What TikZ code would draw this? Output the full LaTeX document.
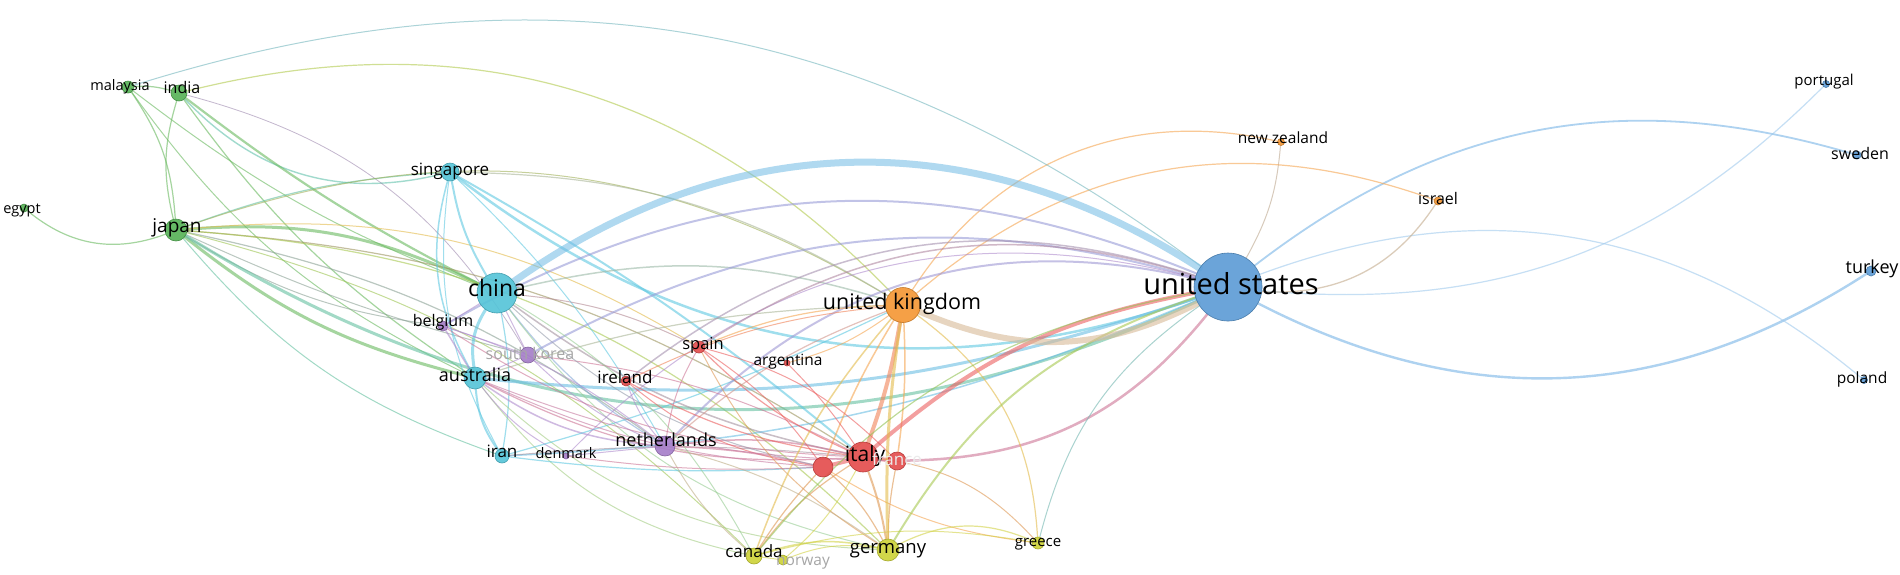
\documentclass[tikz,border=0pt]{standalone}
\usepackage{fontspec}
\setmainfont{Open Sans}
\usetikzlibrary{topaths}
\definecolor{cBlue}{RGB}{91,155,213}
\definecolor{cCyan}{RGB}{84,196,216}
\definecolor{cGreen}{RGB}{85,178,85}
\definecolor{cOrange}{RGB}{245,150,50}
\definecolor{cRed}{RGB}{228,75,75}
\definecolor{cYellow}{RGB}{205,210,55}
\definecolor{cPurple}{RGB}{165,125,200}
\definecolor{cEb}{RGB}{120,180,230}
\definecolor{cEc}{RGB}{95,200,225}
\definecolor{cEg}{RGB}{105,185,95}
\definecolor{cEo}{RGB}{245,165,80}
\definecolor{cEr}{RGB}{235,95,95}
\definecolor{cEy}{RGB}{210,210,70}
\definecolor{cEp}{RGB}{175,140,205}
\definecolor{cTan}{RGB}{215,185,150}
\tikzset{
  bl/.style={bend left=#1},
  br/.style={bend right=#1},
  lnk/.style={line cap=round, opacity=0.6},
  lw/.style={line width={#1*0.1pt}},
  vn/.style={circle, inner sep=0pt, minimum size={#1*0.1pt}, line width=0.06pt},
  lb/.style={font={\pgfmathsetmacro\fsz{#1/10}\fontsize{\fsz pt}{\fsz pt}\selectfont}, inner sep=0pt, text height={#1*0.072pt}, text depth={#1*0.02pt}, text=black},
  ghost/.style={text=black!35},
}
\def\nodelist{US/1228/287/68/cBlue, CN/497/293/40/cCyan, UK/903/305/35/cOrange, IT/863/457/30/cRed,
 XX/823/467/20/cRed, FR/897/461/18/cRed, AU/475/378/22/cCyan, JP/176/230/22/cGreen, IN/179/93/16/cGreen,
 MY/128/87/12/cGreen, EG/24/208/8/cGreen, SG/450/172/18/cCyan, IR/502/456/14/cCyan, KR/528/355/16/cPurple,
 BE/443/326/10/cPurple, DK/566/456/6/cPurple, NL/665/446/20/cPurple, IE/626/381/10/cRed, ES/699/347/12/cRed,
 AR/787/363/6/cRed, DE/888/550/22/cYellow, GR/1038/543/12/cYellow, CA/754/556/16/cYellow, NO/783/560/10/cYellow,
 NZ/1281/142/7/cOrange, IL/1438/201/8/cOrange, PT/1826/84/7/cBlue, SE/1857/155/8/cBlue, TR/1871/271/10/cBlue,
 PL/1864/380/7/cBlue}
\begin{document}
\begin{tikzpicture}[x=0.1pt,y=-0.1pt]
\fill[white] (0,0) rectangle (1900,574);
\useasboundingbox (0,0) rectangle (1900,574);
% ---------- node shapes (for anchors) ----------
\foreach \n/\x/\y/\s/\c in \nodelist { \node[vn=\s] (\n) at (\x,\y) {}; }
% ---------- edges ----------
% US right side
\draw[lnk, cEb, lw=2.4] (US) to[br=30] (TR);
\draw[lnk, cEb, lw=1.8] (US) to[bl=27] (SE);
\draw[lnk, cEb!70!white, lw=1.2] (US) to[bl=30] (PL);
\draw[lnk, cEb!70!white, lw=1.2] (US) to[br=25] (PT);
\draw[lnk, cEo!60!cEb, lw=1.3] (US) to[br=30] (IL);
\draw[lnk, cTan!70!gray, lw=1] (US) to[br=12] (NZ);
\draw[lnk, cEo, lw=1.2] (UK) to[bl=35] (NZ);
\draw[lnk, cEo, lw=1.2] (UK) to[bl=30] (IL);
% green cluster
\draw[lnk, cEg, lw=1.2] (MY) to[bl=10] (IN);
\draw[lnk, cEg, lw=1.2] (MY) to[bl=15] (JP);
\draw[lnk, cEg, lw=1.2] (IN) to[br=15] (JP);
\draw[lnk, cEg, lw=1.2] (EG) to[br=30] (JP);
\draw[lnk, cEg!40!cEc, lw=1.4] (IN) to[br=30] (SG);
\draw[lnk, cEg, lw=2.2] (IN) to[br=5] (CN);
\draw[lnk, cEg, lw=1.2] (IN) to[br=10] (AU);
\draw[lnk, cEg, lw=1] (MY) to[br=8] (CN);
\draw[lnk, cEg, lw=1] (MY) to[br=14] (AU);
\draw[lnk, cEp!60!gray, lw=0.8] (IN) to[bl=22] (KR);
\draw[lnk, cEy!70!cEg, lw=1.2] (IN) to[bl=30] (UK);
\draw[lnk, cEg!30!cEb, lw=1] (MY) to[bl=27] (US);
\draw[lnk, cEg, lw=3] (JP) to[bl=15] (CN);
\draw[lnk, cEg, lw=3] (JP) to[br=12] (AU);
\draw[lnk, cEg!50!cEc, lw=1.2] (JP) to[bl=8] (SG);
\draw[lnk, cEg!50!cEp, lw=1] (JP) to[br=12] (BE);
\draw[lnk, cEg!50!cEp, lw=1] (JP) to[br=5] (KR);
\draw[lnk, cEg!60!cEr, lw=1.2] (JP) to[bl=14] (IT);
\draw[lnk, cEg!50!cEp, lw=1.2] (JP) to[bl=12] (NL);
\draw[lnk, cEy!50!cEo, lw=1] (JP) to[bl=18] (ES);
\draw[lnk, cEy!60!cEg, lw=1.2] (JP) to[bl=20] (DE);
\draw[lnk, cEy!50!cEg, lw=1] (JP) to[bl=15] (CA);
\draw[lnk, cEg!50!cEc, lw=1] (JP) to[br=15] (IR);
\draw[lnk, cEg!60!cEo, lw=1] (JP) to[bl=25] (UK);
\draw[lnk, cEg!50!cEc, lw=3] (JP) to[br=28] (US);
% cyan cluster
\draw[lnk, cEc, lw=3] (CN) to[br=20] (AU);
\draw[lnk, cEc, lw=2] (SG) to[br=10] (CN);
\draw[lnk, cEc, lw=1.5] (SG) to[br=22] (AU);
\draw[lnk, cEc, lw=1] (SG) to[br=18] (IR);
\draw[lnk, cEc, lw=2] (SG) to[bl=5] (IT);
\draw[lnk, cEc, lw=1] (SG) to[bl=8] (NL);
\draw[lnk, cEc, lw=2.5] (SG) to[br=28] (US);
\draw[lnk, cEc!50!cEo, lw=1.2] (SG) to[bl=15] (UK);
\draw[lnk, cEb!70!cEc, lw=7, opacity=0.55] (CN) to[bl=34] (US);
\draw[lnk, cEc, lw=1.2] (CN) to[bl=10] (IR);
\draw[lnk, cEc, lw=2] (AU) to[br=15] (IR);
\draw[lnk, cEc!60!cEo, lw=1.5] (CN) to[bl=15] (UK);
\draw[lnk, cEc!50!cEr, lw=1.5] (CN) to[br=12] (IT);
\draw[lnk, cEc!50!cEp, lw=1.2] (CN) to[br=10] (NL);
\draw[lnk, cEr!60!cEc, lw=1] (CN) to[bl=10] (ES);
\draw[lnk, cEy!50!cEc, lw=1] (CN) to[br=20] (DE);
\draw[lnk, cEp, lw=1] (CN) to (KR);
\draw[lnk, cEp, lw=1.5] (AU) to[br=15] (NL);
\draw[lnk, cEr!50!cEp, lw=1.2] (AU) to[br=15] (IT);
\draw[lnk, cEc!50!cEo, lw=1.2] (AU) to[bl=8] (UK);
\draw[lnk, cEy!60!cEc, lw=1] (AU) to[br=20] (DE);
\draw[lnk, cEy!60!cEc, lw=1] (AU) to[br=20] (CA);
\draw[lnk, cEp, lw=1] (AU) to[br=12] (DK);
\draw[lnk, cEp, lw=1.5] (AU) to (BE);
\draw[lnk, cEp, lw=1] (AU) to (KR);
\draw[lnk, cEc!50!cEb, lw=3] (AU) to[br=12] (US);
\draw[lnk, cEc, lw=1.2] (IR) to[br=5] (XX);
\draw[lnk, cEc, lw=1.2] (IR) to[br=5] (UK);
\draw[lnk, cEc!50!cEb, lw=1.5] (IR) to[br=10] (US);
\draw[lnk, cEr!50!cEc, lw=1] (IR) to[bl=5] (IT);
% purple cluster
\draw[lnk, cEp!60!cEb, lw=2] (BE) to[bl=26] (US);
\draw[lnk, cEp!60!cEb, lw=2] (KR) to[bl=22] (US);
\draw[lnk, cEp!70!cEb, lw=2] (NL) to[bl=30] (US);
\draw[lnk, cEp, lw=1] (DK) to[bl=30] (US);
\draw[lnk, cEp, lw=1] (NL) to[br=10] (BE);
\draw[lnk, cEp, lw=1] (NL) to[bl=10] (KR);
\draw[lnk, cEp, lw=1] (BE) to (KR);
\draw[lnk, cEp, lw=1] (BE) to (CN);
\draw[lnk, cEp!50!cEr, lw=1] (BE) to[br=15] (IT);
\draw[lnk, cEp!50!cEr, lw=1] (KR) to[bl=10] (IT);
\draw[lnk, cEp, lw=1] (DK) to (NL);
\draw[lnk, cEp!50!cEo, lw=1.2] (NL) to[bl=10] (UK);
\draw[lnk, cEp!50!cEr, lw=1.5] (NL) to[bl=10] (IT);
% red cluster
\draw[lnk, cEr, lw=4] (IT) to (XX);
\draw[lnk, cEr, lw=4] (IT) to (FR);
\draw[lnk, cEr!50!cEo, lw=4] (IT) to[br=5] (UK);
\draw[lnk, cEo, lw=1.5] (XX) to[bl=5] (UK);
\draw[lnk, cEo, lw=1.5] (FR) to[br=5] (UK);
\draw[lnk, cEr, lw=1.2] (IT) to[bl=10] (ES);
\draw[lnk, cEr, lw=1.2] (IT) to[bl=10] (IE);
\draw[lnk, cEr, lw=1] (IT) to[br=5] (AR);
\draw[lnk, cEr, lw=1] (XX) to[br=10] (ES);
\draw[lnk, cEr, lw=1] (XX) to[bl=15] (IE);
\draw[lnk, cEr, lw=1] (FR) to[br=15] (ES);
\draw[lnk, cEr!50!cEy, lw=2] (IT) to[bl=5] (DE);
\draw[lnk, cEr!50!cEy, lw=1.2] (IT) to[br=10] (CA);
\draw[lnk, cEr!50!cEy, lw=1.2] (XX) to[br=5] (CA);
\draw[lnk, cEr!50!cEy, lw=1.2] (XX) to[bl=10] (DE);
\draw[lnk, cEr!50!cEy, lw=1.2] (FR) to[br=5] (DE);
\draw[lnk, cEr!50!cEp, lw=1.5] (XX) to[br=5] (NL);
\draw[lnk, cEr!50!cEy, lw=1] (IT) to[bl=20] (GR);
\draw[lnk, cEo, lw=1] (XX) to[br=12] (GR);
\draw[lnk, cEr!50!cEo, lw=1] (IE) to[bl=10] (UK);
\draw[lnk, cEo, lw=1.2] (ES) to[bl=10] (UK);
\draw[lnk, cEo, lw=1] (AR) to[br=10] (UK);
\draw[lnk, cEr!50!cEp, lw=1] (ES) to[br=10] (NL);
\draw[lnk, cEr!40!cEp, lw=1] (XX) to[bl=10] (AU);
\draw[lnk, cEr!40!cEc, lw=1] (XX) to[bl=15] (CN);
\draw[lnk, cEr!40!cEp, lw=1] (FR) to[bl=10] (AU);
\draw[lnk, cEp, lw=1] (IE) to[br=10] (NL);
\draw[lnk, cEr!50!cEy, lw=1] (ES) to[br=15] (DE);
\draw[lnk, cEr!50!cEp, lw=1] (XX) to[bl=5] (DK);
\draw[lnk, cEr, lw=4] (IT) to[bl=15] (US);
\draw[lnk, cEr!50!cEp, lw=2.5] (FR) to[br=25] (US);
\draw[lnk, cEr!50!cEb, lw=1.5] (ES) to[bl=25] (US);
\draw[lnk, cEr!40!cEb, lw=1.5] (IE) to[bl=28] (US);
% yellow cluster
\draw[lnk, cEy, lw=1.5] (CA) to[bl=15] (DE);
\draw[lnk, cEy, lw=1] (CA) to[bl=12] (GR);
\draw[lnk, cEy, lw=1.2] (DE) to[bl=25] (GR);
\draw[lnk, cEy, lw=1] (NO) to[bl=15] (DE);
\draw[lnk, cEy, lw=1] (NO) to[br=10] (IT);
\draw[lnk, cEy, lw=1] (NO) to (CA);
\draw[lnk, cEy!50!cEo, lw=1.2] (UK) to[bl=25] (GR);
\draw[lnk, cEo!50!cEy, lw=3] (DE) to[bl=5] (UK);
\draw[lnk, cEo!50!cEy, lw=1.5] (CA) to[bl=10] (UK);
\draw[lnk, cEy!50!cEp, lw=1] (CA) to[bl=10] (NL);
\draw[lnk, cEy!50!cEp, lw=1] (DE) to[br=10] (NL);
\draw[lnk, cEy!50!cEc, lw=1] (CA) to[br=15] (CN);
\draw[lnk, cEy!60!cEg, lw=2] (DE) to[bl=20] (US);
\draw[lnk, cEg!40!cEb, lw=1] (GR) to[bl=20] (US);
\draw[lnk, cEg!60!cEy, lw=1.2] (CA) to[bl=20] (US);
% orange
\draw[lnk, cTan, lw=6] (UK) to[br=25] (US);
% ---------- visible nodes ----------
\foreach \n/\x/\y/\s/\c in \nodelist { \node[vn=\s, fill=\c, draw=\c!80!black, fill opacity=0.9] at (\n) {}; }
% ---------- labels ----------
\node[lb=29] (USl) at (1231,287) {united states};
\node[lb=23] (CNl) at (497,291) {china};
\node[lb=21.5] (UKl) at (902,304) {united kingdom};
\node[lb=21] (ITl) at (865,456) {italy};
\node[lb=17, text=black!8] (FRl) at (897,461) {france};
\node[lb=18] (AUl) at (475,377) {australia};
\node[lb=19] (JPl) at (177,228) {japan};
\node[lb=16] (INl) at (182,89) {india};
\node[lb=14.5] (MYl) at (120,87) {malaysia};
\node[lb=14.5] (EGl) at (22,210) {egypt};
\node[lb=17] (SGl) at (450,171) {singapore};
\node[lb=16] (BEl) at (443,322) {belgium};
\node[lb=16, ghost] (KRl) at (530,355) {south korea};
\node[lb=17] (IRl) at (502,453) {iran};
\node[lb=14.5] (DKl) at (566,455) {denmark};
\node[lb=17] (IEl) at (625,379) {ireland};
\node[lb=16.5] (ESl) at (703,345) {spain};
\node[lb=15.5] (ARl) at (788,361) {argentina};
\node[lb=18] (NLl) at (666,442) {netherlands};
\node[lb=18.5] (DEl) at (888,549) {germany};
\node[lb=15] (GRl) at (1038,543) {greece};
\node[lb=17] (CAl) at (754,553) {canada};
\node[lb=15.5, ghost] (NOl) at (803,561) {norway};
\node[lb=15.5] (NZl) at (1283,139) {new zealand};
\node[lb=16] (ILl) at (1438,200) {israel};
\node[lb=15] (PTl) at (1824,82) {portugal};
\node[lb=16] (SEl) at (1860,155) {sweden};
\node[lb=18] (TRl) at (1872,269) {turkey};
\node[lb=15.5] (PLl) at (1862,379) {poland};
\end{tikzpicture}
\end{document}
